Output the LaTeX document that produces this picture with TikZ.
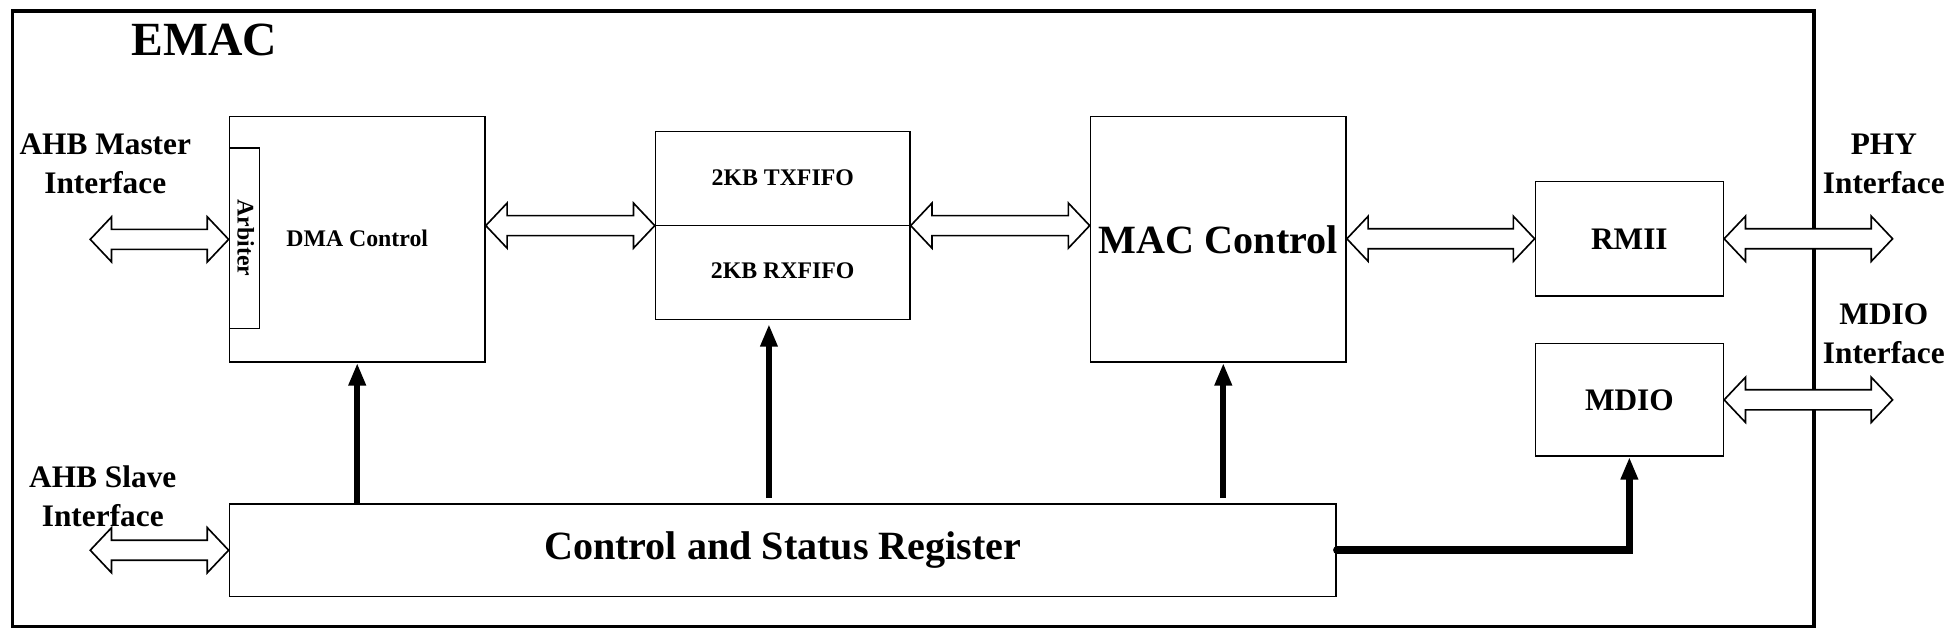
\documentclass[tikz,border=0pt]{standalone}
\usepackage{fontspec}
\setmainfont{Liberation Serif}
\usetikzlibrary{calc,arrows.meta,positioning}

\newcommand\busarrow[2]{%
  \draw[bus] let \p1=(#1), \p2=(#2) in
    (\x1,\y1) -- (\x1+17pt,\y1+18pt) -- (\x1+17pt,\y1+8pt) -- (\x2-17pt,\y1+8pt)
    -- (\x2-17pt,\y1+18pt) -- (\x2,\y1) -- (\x2-17pt,\y1-18pt) -- (\x2-17pt,\y1-8pt)
    -- (\x1+17pt,\y1-8pt) -- (\x1+17pt,\y1-18pt) -- cycle;}

\begin{document}
\begin{tikzpicture}[x=1pt, y=-1pt,
    blk/.style={draw, line width=1.2pt, inner sep=0pt},
    lbl/.style={font=\fontsize{25}{31}\selectfont\bfseries, align=center},
    small/.style={font=\fontsize{19}{23}\selectfont\bfseries},
    bus/.style={draw, fill=white, line width=1.3pt},
    ctl/.style={line width=4.5pt, -{Triangle[length=18pt,width=13pt]}}]
    \useasboundingbox (0,0) rectangle (1563,501);
    % outer frame
    \draw[line width=3pt] (10,9) rectangle (1447,500);
    \node[font=\fontsize{38}{40}\selectfont\bfseries] (emac) at (163,32) {EMAC};

    % blocks
    \node[blk, minimum width=204, minimum height=196] (dma) at (285,191) {};
    \node[small] (dmatxt) at (285,190) {DMA Control};
    \node[blk, minimum width=24, minimum height=144] (arb) at (195,190) {};
    \node[small, rotate=-90] (arbtxt) at (196,190) {Arbiter};
    \node[blk, minimum width=203, minimum height=150] (fifo) at (624.5,180) {};
    \draw[line width=1.2pt] (fifo.west) -- (fifo.east);
    \node[small] (tx) at (624.5,142) {2KB TXFIFO};
    \node[small] (rx) at (624.5,216) {2KB RXFIFO};
    \node[blk, minimum width=204, minimum height=196,
          font=\fontsize{32}{36}\selectfont\bfseries] (mac) at (972,191) {MAC Control};
    \node[blk, lbl, minimum width=150, minimum height=91] (rmii) at (1300,190.5) {RMII};
    \node[blk, lbl, minimum width=150, minimum height=90] (mdio) at (1300,319) {MDIO};
    \node[blk, minimum width=883, minimum height=74,
          font=\fontsize{32}{36}\selectfont\bfseries] (csr) at (624.5,439) {Control and Status Register};

    % interface labels
    \node[lbl] (mstlbl) at (84,131) {AHB Master\\Interface};
    \node[lbl] (slvlbl) at (82,396) {AHB Slave\\Interface};
    \node[lbl] (phylbl) at (1503,131) {PHY\\Interface};
    \node[lbl] (mdiolbl) at (1503,266) {MDIO\\Interface};

    \coordinate (mst) at (72,191);
    \coordinate (slv) at (72,439);
    \coordinate (phy) at (1510,190.5);
    \coordinate (mdioif) at (1510,319);

    % buses
    \busarrow{mst}{dma.west}
    \busarrow{slv}{csr.west}
    \busarrow{dma.east |- fifo.west}{fifo.west}
    \busarrow{fifo.east}{mac.west |- fifo.east}
    \busarrow{mac.east |- rmii.west}{rmii.west}
    \busarrow{rmii.east}{phy}
    \busarrow{mdio.east}{mdioif}

    % control lines
    \draw[ctl] (csr.north -| dma.south) -- (dma.south);
    \draw[ctl] ($(csr.north -| fifo.south)+(-11,-4)$) -- ($(fifo.south)+(-11,3)$);
    \draw[ctl] ($(csr.north -| mac.south)+(4,-4)$) -- ($(mac.south)+(4,0)$);
    \draw[line width=6pt, line cap=round, -{Triangle[length=18pt,width=13pt]}]
        (csr.east) -| (mdio.south);
\end{tikzpicture}
\end{document}
